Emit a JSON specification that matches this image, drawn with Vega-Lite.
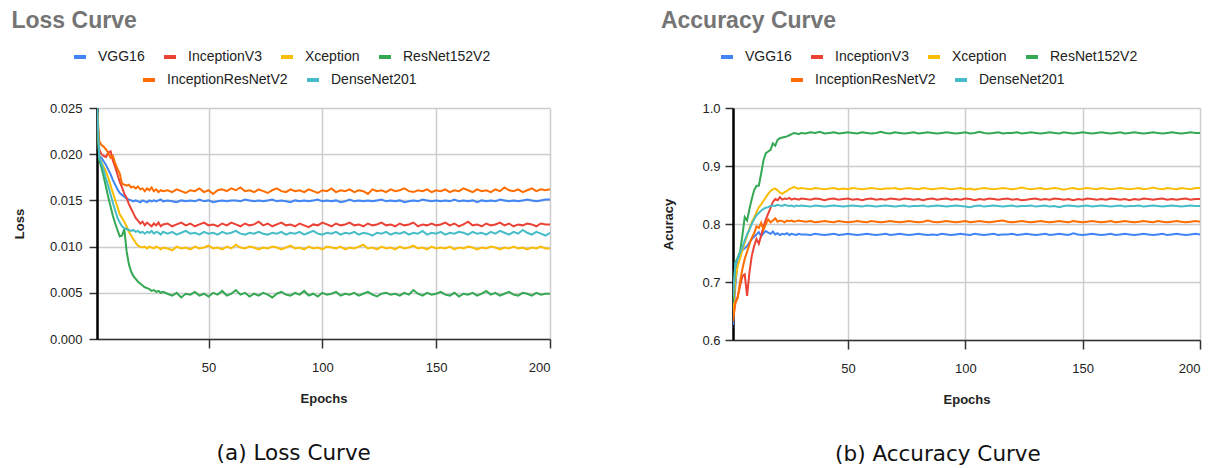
{
  "$schema": "https://vega.github.io/schema/vega-lite/v6.json",
  "padding": {"left": 11, "top": 10, "right": 0, "bottom": 0},
  "datasets": {
    "d": [
      {"m": "VGG16",
       "e": [1,2,3,4,5,6,7,8,9,10,11,12,13,14,15,16,17,18,19,20,21,22,23,24,25,26,27,28,29,30,32,34,36,38,40,42,44,46,48,50,52,54,56,58,60,62,64,66,68,70,72,74,76,78,80,82,84,86,88,90,92,94,96,98,100,102,104,106,108,110,112,114,116,118,120,122,124,126,128,130,132,134,136,138,140,142,144,146,148,150,152,154,156,158,160,162,164,166,168,170,172,174,176,178,180,182,184,186,188,190,192,194,196,198,200],
       "l": [0.0252,0.0198,0.0196,0.0192,0.0188,0.0183,0.0178,0.0172,0.0167,0.0162,0.0158,0.0156,0.0154,0.0152,0.0151,0.015,0.0149,0.015,0.0149,0.0148,0.015,0.0149,0.0148,0.015,0.0149,0.015,0.0149,0.015,0.0151,0.0149,
             0.015,0.0149,0.0148,0.015,0.0149,0.015,0.0149,0.0151,0.0149,0.015,
             0.0148,0.0149,0.015,0.0149,0.015,0.015,0.0149,0.0151,0.015,0.0149,
             0.015,0.0149,0.015,0.0151,0.0149,0.015,0.0149,0.0148,0.015,0.0149,
             0.015,0.0149,0.015,0.0151,0.0149,0.015,0.0149,0.015,0.0148,0.0149,
             0.0151,0.0149,0.015,0.0149,0.015,0.0149,0.015,0.0151,0.0149,0.015,
             0.0149,0.015,0.0148,0.0149,0.015,0.0149,0.0151,0.015,0.0149,0.015,
             0.0149,0.015,0.0149,0.0151,0.0149,0.015,0.0149,0.015,0.0148,0.015,
             0.0149,0.015,0.0149,0.0151,0.015,0.0149,0.015,0.0149,0.015,0.0151,
             0.015,0.0149,0.015,0.0151,0.0151],
       "a": [0.626,0.693,0.739,0.749,0.755,0.758,0.762,0.768,0.774,0.778,0.782,0.786,0.779,0.784,0.788,0.785,0.783,0.787,0.782,0.784,0.781,0.783,0.782,0.784,0.781,0.783,0.782,0.781,0.783,0.782,
             0.782,0.781,0.783,0.782,0.781,0.782,0.783,0.781,0.782,0.783,
             0.782,0.781,0.782,0.783,0.782,0.781,0.782,0.783,0.781,0.782,
             0.783,0.782,0.781,0.782,0.783,0.782,0.781,0.782,0.781,0.783,
             0.782,0.781,0.782,0.783,0.782,0.781,0.783,0.782,0.781,0.782,
             0.783,0.781,0.782,0.782,0.783,0.781,0.782,0.783,0.782,0.781,
             0.782,0.783,0.781,0.782,0.783,0.782,0.781,0.784,0.782,0.781,
             0.782,0.783,0.782,0.781,0.782,0.783,0.781,0.782,0.783,0.782,
             0.781,0.782,0.783,0.782,0.781,0.782,0.783,0.781,0.782,0.783,
             0.782,0.781,0.782,0.783,0.782]},
      {"m": "InceptionV3",
       "e": [1,2,3,4,5,6,7,8,9,10,11,12,13,14,15,16,17,18,19,20,21,22,23,24,25,26,27,28,29,30,32,34,36,38,40,42,44,46,48,50,52,54,56,58,60,62,64,66,68,70,72,74,76,78,80,82,84,86,88,90,92,94,96,98,100,102,104,106,108,110,112,114,116,118,120,122,124,126,128,130,132,134,136,138,140,142,144,146,148,150,152,154,156,158,160,162,164,166,168,170,172,174,176,178,180,182,184,186,188,190,192,194,196,198,200],
       "l": [0.0245,0.0205,0.02,0.0198,0.0197,0.0202,0.0203,0.0193,0.0186,0.0178,0.017,0.0164,0.0157,0.0153,0.0146,0.0141,0.0136,0.0131,0.0128,0.0125,0.0127,0.0123,0.0126,0.0124,0.0122,0.0125,0.0123,0.0126,0.0122,0.0124,
             0.0125,0.0122,0.0124,0.0126,0.0123,0.0125,0.0122,0.0124,0.0126,0.0123,
             0.0124,0.0122,0.0125,0.0123,0.0126,0.0124,0.0122,0.0125,0.0123,0.0124,
             0.0127,0.0123,0.0125,0.0122,0.0124,0.0126,0.0123,0.0124,0.0122,0.0125,
             0.0123,0.0121,0.0124,0.0123,0.0126,0.0124,0.0122,0.0125,0.0123,0.0124,
             0.0126,0.0123,0.0124,0.0122,0.0125,0.0123,0.0124,0.0126,0.0123,0.0124,
             0.0122,0.0125,0.0123,0.0124,0.0126,0.0122,0.0124,0.0123,0.0125,0.0123,
             0.0124,0.0126,0.0123,0.0125,0.0122,0.0124,0.0127,0.0123,0.0124,0.0122,
             0.0125,0.0123,0.0124,0.0126,0.0123,0.0125,0.0122,0.0124,0.0123,0.0125,
             0.0124,0.0122,0.0125,0.0124,0.0124],
       "a": [0.638,0.664,0.675,0.693,0.71,0.713,0.676,0.716,0.745,0.762,0.774,0.766,0.78,0.795,0.808,0.818,0.828,0.838,0.843,0.841,0.846,0.842,0.844,0.843,0.845,0.842,0.844,0.843,0.842,0.844,
             0.843,0.842,0.844,0.843,0.841,0.843,0.844,0.842,0.843,0.844,
             0.842,0.843,0.841,0.843,0.844,0.842,0.843,0.842,0.844,0.843,
             0.842,0.844,0.843,0.842,0.843,0.841,0.843,0.844,0.842,0.843,
             0.844,0.842,0.843,0.842,0.844,0.843,0.841,0.843,0.842,0.844,
             0.843,0.842,0.843,0.844,0.842,0.843,0.841,0.842,0.843,0.844,
             0.842,0.843,0.842,0.844,0.843,0.842,0.843,0.841,0.843,0.842,
             0.844,0.843,0.842,0.843,0.842,0.844,0.843,0.842,0.843,0.841,
             0.843,0.842,0.844,0.843,0.842,0.843,0.844,0.842,0.843,0.842,
             0.843,0.844,0.842,0.843,0.843]},
      {"m": "Xception",
       "e": [1,2,3,4,5,6,7,8,9,10,11,12,13,14,15,16,17,18,19,20,21,22,23,24,25,26,27,28,29,30,32,34,36,38,40,42,44,46,48,50,52,54,56,58,60,62,64,66,68,70,72,74,76,78,80,82,84,86,88,90,92,94,96,98,100,102,104,106,108,110,112,114,116,118,120,122,124,126,128,130,132,134,136,138,140,142,144,146,148,150,152,154,156,158,160,162,164,166,168,170,172,174,176,178,180,182,184,186,188,190,192,194,196,198,200],
       "l": [0.025,0.0196,0.0191,0.0186,0.0181,0.0174,0.0166,0.0158,0.015,0.0143,0.0135,0.0131,0.0127,0.0122,0.0116,0.0112,0.0108,0.0104,0.0101,0.01,0.0099,0.01,0.0098,0.01,0.0099,0.0098,0.01,0.0099,0.0097,0.0099,
             0.0098,0.0096,0.01,0.0098,0.0099,0.0097,0.01,0.0098,0.0099,0.0101,
             0.0098,0.0099,0.0097,0.01,0.0098,0.0102,0.0099,0.0098,0.01,0.0099,
             0.0097,0.0099,0.0098,0.01,0.0099,0.0097,0.0099,0.0101,0.0098,0.0099,
             0.0097,0.01,0.0098,0.0099,0.0097,0.01,0.0099,0.0098,0.01,0.0097,
             0.0099,0.0098,0.01,0.0102,0.0098,0.0099,0.0097,0.01,0.0098,0.0099,
             0.0097,0.01,0.0098,0.0099,0.0101,0.0098,0.0099,0.0097,0.01,0.0098,
             0.0099,0.0098,0.01,0.0097,0.0099,0.0098,0.01,0.0099,0.0097,0.0099,
             0.0098,0.01,0.0099,0.0097,0.0099,0.0098,0.01,0.0098,0.0099,0.0097,
             0.0099,0.0098,0.01,0.0098,0.0098],
       "a": [0.647,0.704,0.728,0.74,0.755,0.768,0.78,0.792,0.803,0.811,0.82,0.829,0.834,0.84,0.846,0.852,0.857,0.86,0.861,0.858,0.854,0.852,0.855,0.857,0.86,0.862,0.864,0.862,0.861,0.862,
             0.861,0.86,0.862,0.861,0.86,0.861,0.862,0.86,0.861,0.86,
             0.862,0.861,0.86,0.861,0.862,0.861,0.86,0.861,0.861,0.862,
             0.86,0.861,0.862,0.861,0.86,0.862,0.861,0.86,0.861,0.862,
             0.861,0.86,0.861,0.862,0.86,0.861,0.859,0.861,0.862,0.861,
             0.86,0.861,0.862,0.861,0.86,0.861,0.863,0.861,0.86,0.861,
             0.862,0.86,0.861,0.862,0.861,0.859,0.861,0.862,0.86,0.861,
             0.862,0.861,0.86,0.862,0.861,0.86,0.861,0.862,0.861,0.86,
             0.861,0.862,0.86,0.861,0.863,0.861,0.86,0.862,0.861,0.86,
             0.862,0.861,0.86,0.862,0.862]},
      {"m": "ResNet152V2",
       "e": [1,2,3,4,5,6,7,8,9,10,11,12,13,14,15,16,17,18,19,20,21,22,23,24,25,26,27,28,29,30,32,34,36,38,40,42,44,46,48,50,52,54,56,58,60,62,64,66,68,70,72,74,76,78,80,82,84,86,88,90,92,94,96,98,100,102,104,106,108,110,112,114,116,118,120,122,124,126,128,130,132,134,136,138,140,142,144,146,148,150,152,154,156,158,160,162,164,166,168,170,172,174,176,178,180,182,184,186,188,190,192,194,196,198,200],
       "l": [0.0248,0.0194,0.0185,0.0175,0.0164,0.0153,0.0143,0.0133,0.0125,0.0118,0.0111,0.0112,0.0119,0.0095,0.0081,0.0073,0.0068,0.0065,0.0062,0.006,0.0058,0.0056,0.0055,0.0054,0.0052,0.0053,0.0051,0.0052,0.005,0.0051,
             0.0049,0.0047,0.005,0.0045,0.0049,0.0048,0.0051,0.0047,0.0049,0.0046,
             0.005,0.0048,0.0052,0.0047,0.0049,0.0053,0.0048,0.005,0.0046,0.0049,
             0.0047,0.005,0.0048,0.0045,0.0049,0.0051,0.0048,0.0047,0.005,0.0048,
             0.0052,0.0047,0.0049,0.0046,0.005,0.0048,0.0049,0.0051,0.0047,0.0049,
             0.0048,0.005,0.0047,0.0049,0.0051,0.0048,0.0046,0.0049,0.005,0.0048,
             0.0049,0.0047,0.005,0.0048,0.0053,0.0049,0.0047,0.005,0.0048,0.0049,
             0.0051,0.0048,0.0047,0.005,0.0046,0.0049,0.0048,0.005,0.0047,0.0049,
             0.0052,0.0048,0.005,0.0047,0.0049,0.0051,0.0048,0.0047,0.005,0.0049,
             0.0047,0.005,0.0048,0.0049,0.0049],
       "a": [0.664,0.733,0.742,0.752,0.78,0.812,0.806,0.826,0.843,0.858,0.866,0.866,0.887,0.91,0.922,0.925,0.928,0.939,0.935,0.945,0.948,0.949,0.95,0.951,0.953,0.955,0.957,0.956,0.955,0.957,
             0.956,0.958,0.957,0.959,0.956,0.957,0.958,0.956,0.957,0.958,
             0.957,0.956,0.958,0.957,0.956,0.957,0.959,0.957,0.956,0.958,
             0.957,0.956,0.957,0.958,0.956,0.957,0.958,0.957,0.956,0.957,
             0.958,0.957,0.956,0.957,0.958,0.956,0.957,0.959,0.957,0.956,
             0.957,0.958,0.956,0.957,0.957,0.958,0.956,0.957,0.958,0.957,
             0.956,0.957,0.958,0.957,0.956,0.958,0.957,0.956,0.957,0.958,
             0.957,0.956,0.957,0.958,0.957,0.956,0.957,0.958,0.956,0.957,
             0.958,0.957,0.956,0.957,0.958,0.957,0.956,0.957,0.958,0.957,
             0.956,0.957,0.958,0.957,0.957]},
      {"m": "InceptionResNetV2",
       "e": [1,2,3,4,5,6,7,8,9,10,11,12,13,14,15,16,17,18,19,20,21,22,23,24,25,26,27,28,29,30,32,34,36,38,40,42,44,46,48,50,52,54,56,58,60,62,64,66,68,70,72,74,76,78,80,82,84,86,88,90,92,94,96,98,100,102,104,106,108,110,112,114,116,118,120,122,124,126,128,130,132,134,136,138,140,142,144,146,148,150,152,154,156,158,160,162,164,166,168,170,172,174,176,178,180,182,184,186,188,190,192,194,196,198,200],
       "l": [0.025,0.0214,0.021,0.0208,0.0205,0.0201,0.0196,0.0198,0.019,0.0184,0.0179,0.0168,0.0167,0.0166,0.0167,0.0164,0.0165,0.0163,0.0165,0.0162,0.0163,0.016,0.0163,0.0161,0.0164,0.016,0.0162,0.0159,0.0161,0.016,
             0.0161,0.0159,0.0162,0.016,0.0158,0.0161,0.016,0.0163,0.0159,0.0161,
             0.0157,0.0161,0.0162,0.016,0.0163,0.0161,0.0164,0.016,0.0161,0.0159,
             0.0162,0.016,0.0158,0.0161,0.0163,0.016,0.0159,0.0162,0.016,0.0161,
             0.0159,0.0162,0.016,0.0158,0.0161,0.016,0.0163,0.0159,0.0161,0.016,
             0.0162,0.0159,0.0161,0.016,0.0157,0.0162,0.016,0.0161,0.0159,0.0162,
             0.016,0.0161,0.0163,0.016,0.0159,0.0161,0.016,0.0162,0.0159,0.0161,
             0.016,0.0162,0.0159,0.0161,0.016,0.0163,0.0161,0.0159,0.0162,0.016,
             0.0161,0.0159,0.0162,0.016,0.0164,0.0161,0.016,0.0162,0.0159,0.0161,
             0.0163,0.016,0.0162,0.0161,0.0162],
       "a": [0.632,0.664,0.672,0.7,0.722,0.74,0.752,0.765,0.776,0.784,0.796,0.793,0.802,0.79,0.8,0.808,0.803,0.806,0.81,0.804,0.806,0.805,0.803,0.806,0.805,0.806,0.804,0.805,0.806,0.805,
             0.804,0.805,0.803,0.804,0.805,0.804,0.803,0.805,0.804,0.803,
             0.804,0.805,0.804,0.803,0.805,0.804,0.803,0.804,0.805,0.804,
             0.803,0.804,0.805,0.804,0.803,0.804,0.806,0.804,0.803,0.804,
             0.805,0.804,0.803,0.804,0.805,0.803,0.804,0.805,0.804,0.803,
             0.804,0.805,0.806,0.804,0.803,0.804,0.805,0.804,0.803,0.804,
             0.805,0.804,0.803,0.804,0.805,0.804,0.803,0.805,0.804,0.803,
             0.804,0.805,0.804,0.803,0.804,0.805,0.803,0.804,0.805,0.804,
             0.803,0.804,0.805,0.804,0.803,0.805,0.804,0.803,0.804,0.805,
             0.804,0.803,0.804,0.805,0.804]},
      {"m": "DenseNet201",
       "e": [1,2,3,4,5,6,7,8,9,10,11,12,13,14,15,16,17,18,19,20,21,22,23,24,25,26,27,28,29,30,32,34,36,38,40,42,44,46,48,50,52,54,56,58,60,62,64,66,68,70,72,74,76,78,80,82,84,86,88,90,92,94,96,98,100,102,104,106,108,110,112,114,116,118,120,122,124,126,128,130,132,134,136,138,140,142,144,146,148,150,152,154,156,158,160,162,164,166,168,170,172,174,176,178,180,182,184,186,188,190,192,194,196,198,200],
       "l": [0.0255,0.0197,0.019,0.0182,0.0173,0.0165,0.0156,0.0147,0.0139,0.0131,0.0126,0.0122,0.012,0.0119,0.0118,0.0117,0.0118,0.0116,0.0117,0.0115,0.0116,0.0114,0.0116,0.0115,0.0117,0.0114,0.0116,0.0115,0.0113,0.0116,
             0.0114,0.0116,0.0113,0.0115,0.0117,0.0114,0.0115,0.0113,0.0116,0.0114,
             0.0115,0.0113,0.0116,0.0114,0.0115,0.0117,0.0114,0.0113,0.0115,0.0114,
             0.0116,0.0114,0.0113,0.0115,0.0114,0.0116,0.0113,0.0115,0.0114,0.0116,
             0.0113,0.0115,0.0117,0.0114,0.0113,0.0115,0.0114,0.0116,0.0113,0.0115,
             0.0114,0.0116,0.0113,0.0115,0.0114,0.0112,0.0115,0.0114,0.0116,0.0113,
             0.0115,0.0114,0.0116,0.0113,0.0115,0.0114,0.0117,0.0113,0.0115,0.0114,
             0.0116,0.0113,0.0115,0.0114,0.0116,0.0115,0.0113,0.0116,0.0114,0.0115,
             0.0113,0.0116,0.0114,0.0117,0.0115,0.0113,0.0116,0.0114,0.0118,0.0115,
             0.0113,0.0116,0.0114,0.0112,0.0115],
       "a": [0.675,0.733,0.739,0.75,0.76,0.772,0.782,0.79,0.8,0.808,0.815,0.819,0.823,0.826,0.828,0.829,0.831,0.832,0.831,0.833,0.832,0.831,0.833,0.832,0.831,0.832,0.83,0.832,0.831,0.832,
             0.831,0.83,0.832,0.831,0.83,0.831,0.832,0.831,0.83,0.831,
             0.832,0.831,0.83,0.832,0.831,0.83,0.831,0.832,0.831,0.83,
             0.831,0.832,0.83,0.831,0.831,0.832,0.83,0.831,0.832,0.831,
             0.83,0.831,0.832,0.831,0.83,0.829,0.831,0.832,0.83,0.831,
             0.832,0.831,0.83,0.831,0.832,0.83,0.831,0.831,0.832,0.83,
             0.831,0.832,0.83,0.831,0.829,0.831,0.832,0.831,0.83,0.831,
             0.832,0.83,0.831,0.832,0.831,0.83,0.831,0.832,0.83,0.831,
             0.831,0.832,0.83,0.831,0.832,0.831,0.83,0.831,0.832,0.831,
             0.83,0.831,0.832,0.831,0.831]}
    ]
  },
  "hconcat": [
    {
      "title": {"text": "(a) Loss Curve", "orient": "bottom", "anchor": "middle", "font": "DejaVu Sans", "fontSize": 21.5, "fontWeight": "normal", "color": "#111111", "offset": 38},
      "resolve": {"scale": {"color": "independent", "stroke": "independent"}, "legend": {"color": "independent", "stroke": "independent"}},
      "vconcat": [
        {
          "title": {"text": "Loss Curve", "dx": -2},
          "width": 453,
          "height": 231,
          "data": {"name": "d"},
          "transform": [{"flatten": ["e", "l", "a"]}],
          "encoding": {
            "x": {"field": "e", "type": "quantitative", "scale": {"domain": [1, 200], "nice": false, "zero": false},
                  "axis": {"values": [50, 100, 150, 200], "title": "Epochs", "tickSize": 9, "labelPadding": 13, "titlePadding": 18, "domainColor": "#333333", "domainWidth": 1.5}},
            "y": {"field": "l", "type": "quantitative", "scale": {"domain": [0, 0.025], "nice": false},
                  "axis": {"values": [0, 0.005, 0.01, 0.015, 0.02, 0.025], "format": ".3f", "title": "Loss", "tickSize": 8, "labelPadding": 7, "titlePadding": 23, "domainColor": "#000000", "domainWidth": 2.5}}
          },
          "layer": [
            {
              "transform": [{"filter": {"field": "m", "oneOf": ["VGG16", "InceptionV3", "Xception", "ResNet152V2"]}}],
              "mark": {"type": "line", "strokeWidth": 2, "clip": true},
              "encoding": {
                "color": {"field": "m", "type": "nominal",
                          "scale": {"domain": ["VGG16", "InceptionV3", "Xception", "ResNet152V2"], "range": ["#4285f4", "#ea4335", "#fbbc04", "#34a853"]},
                          "legend": {"title": " ", "titleOrient": "right", "titleFontSize": 1, "titlePadding": 86}}
              }
            },
            {
              "transform": [{"filter": {"field": "m", "oneOf": ["InceptionResNetV2", "DenseNet201"]}}],
              "mark": {"type": "line", "strokeWidth": 2, "clip": true},
              "encoding": {
                "stroke": {"field": "m", "type": "nominal",
                           "scale": {"domain": ["InceptionResNetV2", "DenseNet201"], "range": ["#ff6d01", "#46bdc6"]},
                           "legend": {"title": " ", "titleOrient": "right", "titleFontSize": 1, "titlePadding": 90}}
              }
            }
          ]
        }
      ]
    },
    {
      "title": {"text": "(b) Accuracy Curve", "orient": "bottom", "anchor": "middle", "font": "DejaVu Sans", "fontSize": 21.5, "fontWeight": "normal", "color": "#111111", "offset": 38},
      "resolve": {"scale": {"color": "independent", "stroke": "independent"}, "legend": {"color": "independent", "stroke": "independent"}},
      "vconcat": [
        {
          "title": {"text": "Accuracy Curve", "dx": -2},
          "width": 467,
          "height": 232,
          "data": {"name": "d"},
          "transform": [{"flatten": ["e", "l", "a"]}],
          "encoding": {
            "x": {"field": "e", "type": "quantitative", "scale": {"domain": [1, 200], "nice": false, "zero": false},
                  "axis": {"values": [50, 100, 150, 200], "title": "Epochs", "tickSize": 9, "labelPadding": 13, "titlePadding": 18, "domainColor": "#333333", "domainWidth": 1.5}},
            "y": {"field": "a", "type": "quantitative", "scale": {"domain": [0.6, 1.0], "nice": false, "zero": false},
                  "axis": {"values": [0.6, 0.7, 0.8, 0.9, 1.0], "format": ".1f", "title": "Acuracy", "tickSize": 8, "labelPadding": 5, "titlePadding": 26, "domainColor": "#000000", "domainWidth": 2.5}}
          },
          "layer": [
            {
              "transform": [{"filter": {"field": "m", "oneOf": ["VGG16", "InceptionV3", "Xception", "ResNet152V2"]}}],
              "mark": {"type": "line", "strokeWidth": 2, "clip": true},
              "encoding": {
                "color": {"field": "m", "type": "nominal",
                          "scale": {"domain": ["VGG16", "InceptionV3", "Xception", "ResNet152V2"], "range": ["#4285f4", "#ea4335", "#fbbc04", "#34a853"]},
                          "legend": {"title": " ", "titleOrient": "right", "titleFontSize": 1, "titlePadding": 78}}
              }
            },
            {
              "transform": [{"filter": {"field": "m", "oneOf": ["InceptionResNetV2", "DenseNet201"]}}],
              "mark": {"type": "line", "strokeWidth": 2, "clip": true},
              "encoding": {
                "stroke": {"field": "m", "type": "nominal",
                           "scale": {"domain": ["InceptionResNetV2", "DenseNet201"], "range": ["#ff6d01", "#46bdc6"]},
                           "legend": {"title": " ", "titleOrient": "right", "titleFontSize": 1, "titlePadding": 80}}
              }
            }
          ]
        }
      ]
    }
  ],
  "spacing": 84,
  "resolve": {"scale": {"color": "independent", "stroke": "independent"}, "legend": {"color": "independent", "stroke": "independent"}},
  "config": {
    "view": {"stroke": null},
    "font": "Liberation Sans",
    "axis": {"labelFont": "Liberation Sans", "labelFontSize": 13, "labelColor": "#222222", "titleFont": "Liberation Sans", "titleFontSize": 13, "titleFontWeight": "bold", "titleColor": "#222222", "gridColor": "#cccccc", "gridWidth": 1.5, "tickColor": "#333333", "tickWidth": 1.5},
    "legend": {"orient": "top", "direction": "horizontal", "symbolType": "stroke", "symbolStrokeWidth": 4, "symbolSize": 144, "labelFont": "Liberation Sans", "labelFontSize": 14, "labelColor": "#222222", "labelOffset": 10, "columnPadding": 11, "padding": 0, "offset": 20,
               "layout": {"top": {"anchor": "middle", "direction": "vertical", "center": true, "margin": 7}}},
    "title": {"font": "Liberation Sans", "fontSize": 23, "fontWeight": "bold", "color": "#757575", "anchor": "start", "offset": 16}
  }
}
